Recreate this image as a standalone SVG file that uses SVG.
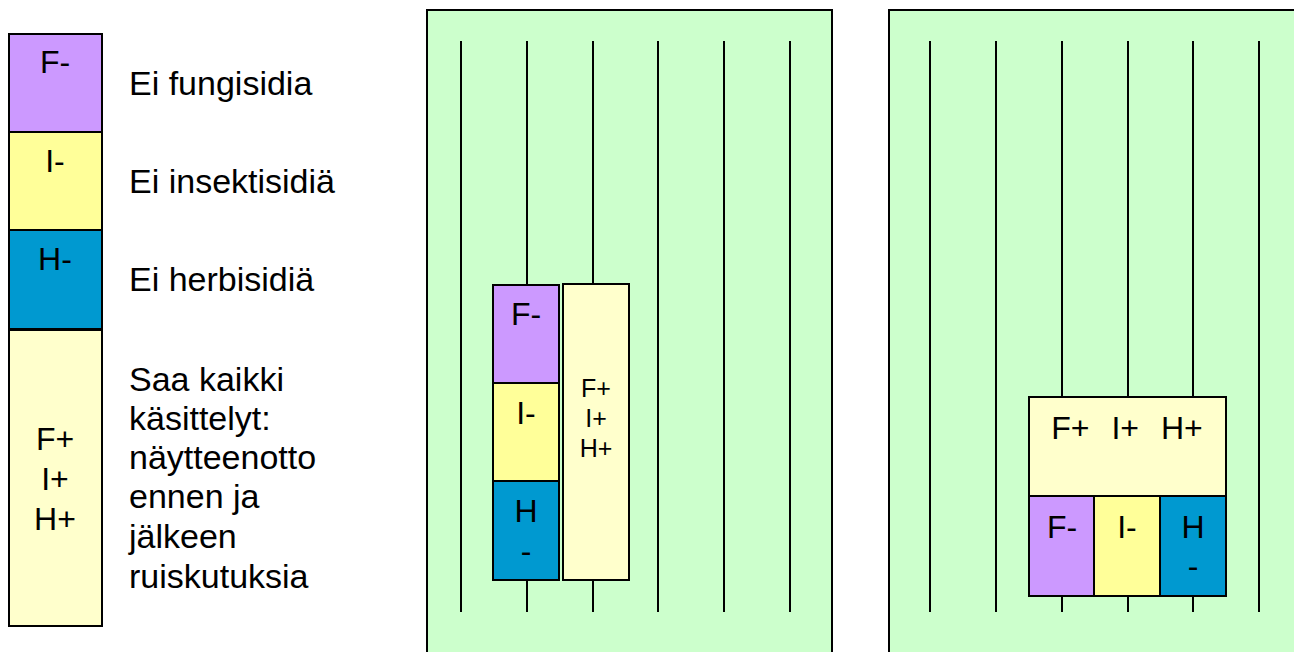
<svg xmlns="http://www.w3.org/2000/svg" width="1294" height="652" viewBox="0 0 1294 652">
<style>
text{font-family:"Liberation Sans",Arial,sans-serif;fill:#000}
.b{stroke:#000;stroke-width:2}
.fm{fill:#CC99FF}
.im{fill:#FFFF99}
.hm{fill:#0099D0}
.al{fill:#FFFFCC}
.field{fill:#CCFFCC;stroke:#000;stroke-width:2}
.row{stroke:#000;stroke-width:2;fill:none}
.big{font-size:32px;text-anchor:middle}
.lbl{font-size:34px}
.sm{font-size:25px;text-anchor:middle}
</style>
<rect width="1294" height="652" fill="#fff"/>

<g id="legend">
  <g id="legend-f">
    <rect class="b fm" x="9" y="34" width="93" height="98"/>
    <text class="big" x="55" y="73">F-</text>
    <text class="lbl" x="129" y="95">Ei fungisidia</text>
  </g>
  <g id="legend-i">
    <rect class="b im" x="9" y="132" width="93" height="98"/>
    <text class="big" x="55" y="172">I-</text>
    <text class="lbl" x="129" y="193">Ei insektisidiä</text>
  </g>
  <g id="legend-h">
    <rect class="b hm" x="9" y="230" width="93" height="99"/>
    <text class="big" x="55" y="270">H-</text>
    <text class="lbl" x="129" y="291">Ei herbisidiä</text>
  </g>
  <g id="legend-all">
    <rect class="b al" x="9" y="330" width="93" height="296"/>
    <text class="big" x="55" y="450">F+</text>
    <text class="big" x="55" y="490">I+</text>
    <text class="big" x="55" y="530">H+</text>
    <text class="lbl" x="129" y="391">Saa kaikki</text>
    <text class="lbl" x="129" y="430">käsittelyt:</text>
    <text class="lbl" x="129" y="469">näytteenotto</text>
    <text class="lbl" x="129" y="508">ennen ja</text>
    <text class="lbl" x="129" y="548">jälkeen</text>
    <text class="lbl" x="129" y="588">ruiskutuksia</text>
  </g>
</g>

<g id="field-1">
  <rect class="field" x="427" y="10" width="405" height="660"/>
  <g class="rows">
    <line class="row" x1="461" y1="41" x2="461" y2="612"/>
    <line class="row" x1="527" y1="41" x2="527" y2="612"/>
    <line class="row" x1="593" y1="41" x2="593" y2="612"/>
    <line class="row" x1="658" y1="41" x2="658" y2="612"/>
    <line class="row" x1="724" y1="41" x2="724" y2="612"/>
    <line class="row" x1="790" y1="41" x2="790" y2="612"/>
  </g>
  <g id="f1-fminus">
    <rect class="b fm" x="493" y="285" width="66" height="98"/>
    <text class="big" x="526" y="325">F-</text>
  </g>
  <g id="f1-iminus">
    <rect class="b im" x="493" y="383" width="66" height="98"/>
    <text class="big" x="526" y="424">I-</text>
  </g>
  <g id="f1-hminus">
    <rect class="b hm" x="493" y="481" width="66" height="99"/>
    <text class="big" x="526" y="522">H</text>
    <text class="big" x="526" y="562">-</text>
  </g>
  <g id="f1-all">
    <rect class="b al" x="563" y="284" width="66" height="296"/>
    <text class="sm" x="596" y="397">F+</text>
    <text class="sm" x="596" y="427">I+</text>
    <text class="sm" x="596" y="457">H+</text>
  </g>
</g>

<g id="field-2">
  <rect class="field" x="889" y="10" width="420" height="660"/>
  <g class="rows">
    <line class="row" x1="930" y1="41" x2="930" y2="612"/>
    <line class="row" x1="996" y1="41" x2="996" y2="612"/>
    <line class="row" x1="1062" y1="41" x2="1062" y2="612"/>
    <line class="row" x1="1128" y1="41" x2="1128" y2="612"/>
    <line class="row" x1="1193" y1="41" x2="1193" y2="612"/>
    <line class="row" x1="1259" y1="41" x2="1259" y2="612"/>
  </g>
  <g id="f2-all">
    <rect class="b al" x="1029" y="397" width="197" height="99"/>
    <text class="big" x="1127" y="439" style="word-spacing:13px">F+ I+ H+</text>
  </g>
  <g id="f2-fminus">
    <rect class="b fm" x="1029" y="496" width="65" height="100"/>
    <text class="big" x="1062" y="538">F-</text>
  </g>
  <g id="f2-iminus">
    <rect class="b im" x="1094" y="496" width="66" height="100"/>
    <text class="big" x="1127" y="538">I-</text>
  </g>
  <g id="f2-hminus">
    <rect class="b hm" x="1160" y="496" width="66" height="100"/>
    <text class="big" x="1193" y="538">H</text>
    <text class="big" x="1193" y="577">-</text>
  </g>
</g>
</svg>
